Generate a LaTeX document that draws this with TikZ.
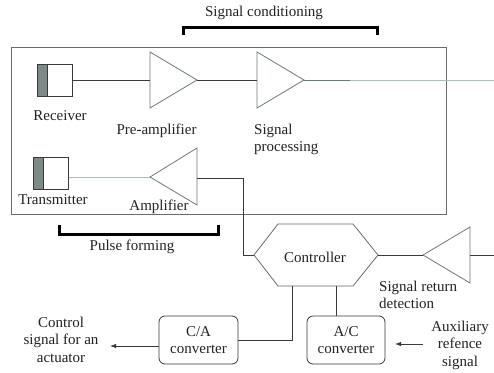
\documentclass[tikz,border=0pt]{standalone}
\usepackage{fontspec}
\setmainfont{Liberation Serif}
\usetikzlibrary{arrows.meta}
\definecolor{wire}{HTML}{3A3A3A}
\definecolor{lite}{HTML}{A9BDBD}
\definecolor{frame}{HTML}{6A6A6A}
\definecolor{trig}{HTML}{6F7878}
\definecolor{xdcr}{HTML}{7E8A88}
\definecolor{txt}{HTML}{222222}
\begin{document}
\begin{tikzpicture}[x=1pt,y=-1pt,
  font=\fontsize{15}{17.5}\selectfont, text=txt,
  wirel/.style={draw=wire, line width=0.8pt},
  litel/.style={draw=lite, line width=0.9pt},
  tri/.style={draw=trig, line width=0.8pt},
  brk/.style={draw=black, line width=3pt},
  xducer/.style={draw=wire, line width=0.8pt, minimum width=35pt, minimum height=32pt, inner sep=0pt,
    path picture={\fill[xdcr] (path picture bounding box.south west) rectangle ([xshift=10pt]path picture bounding box.north west);
      \draw[wire, line width=0.8pt] ([xshift=10pt]path picture bounding box.south west) -- ([xshift=10pt]path picture bounding box.north west);}},
  conv/.style={draw=wire, line width=0.8pt, rounded corners=6pt, minimum height=48pt, inner sep=0pt, align=center},
  lbl/.style={inner sep=0pt, align=center},
  arr/.style={wirel, -{Latex[length=6pt,width=4.5pt]}}
]
\useasboundingbox (0,0) rectangle (494,372);

% main unit frame
\node[draw=frame, line width=0.9pt, minimum width=435pt, minimum height=167pt, inner sep=0pt] (unit) at (228.5,130.5) {};

% receiver chain
\node[xducer] (rx) at (54.5,80) {};
\node[lbl] (rxl) at (60,116) {Receiver};
\coordinate (paIn) at (150,80);
\coordinate (paOut) at (197,80);
\draw[tri] (150,52) -- (paOut) -- (150,108) -- cycle;
\node[lbl] (pal) at (156.5,131) {Pre-amplifier};
\coordinate (spIn) at (257,80);
\coordinate (spOut) at (304,80);
\draw[tri] (257,52) -- (spOut) -- (257,108) -- cycle;
\node[lbl, align=left, anchor=west] (spl) at (254,139.5) {Signal\\processing};
\coordinate (spMid) at (350,80);
\coordinate (spEnd) at (494,80);
\draw[wirel] (rx.east) -- (paIn);
\draw[wirel] (paOut) -- (spIn);
\draw[draw=trig, line width=0.8pt] (spOut) -- (spMid);
\draw[litel] (spMid) -- (spEnd);

% transmitter chain
\node[xducer] (tx) at (51,173) {};
\node[lbl] (txl) at (53,200) {Transmitter};
\coordinate (ampTip) at (150,177);
\coordinate (ampIn) at (197,178);
\draw[tri] (197,148) -- (ampTip) -- (197,205) -- cycle;
\node[lbl] (ampl) at (159,207) {Amplifier};
\draw[litel] (tx.east |- ampTip) -- (ampTip);

% brackets
\node[lbl] (scl) at (264,13) {Signal conditioning};
\draw[brk] (183,35) -- (183,27) -- (377,27) -- (377,35);
\node[lbl] (pfl) at (132,247) {Pulse forming};
\draw[brk] (59,225) -- (59,234) -- (218,234) -- (218,225);

% controller
\node[lbl] (ctrl) at (315,257) {Controller};
\coordinate (ctrlL) at (254,255);
\coordinate (ctrlR) at (378,255);
\draw[wirel, draw=frame] (ctrlL) -- (278,224) -- (353,224) -- (ctrlR) -- (353,286) -- (278,286) -- cycle;
\coordinate (ctrlB1) at (292,286);
\coordinate (ctrlB2) at (336,286);
\coordinate (ampDown) at (243,178);
\draw[wirel] (ampIn) -- (ampDown) |- (ctrlL);

% signal return detection
\coordinate (srTip) at (423,255);
\coordinate (srIn) at (470,255);
\coordinate (srEnd) at (494,255);
\draw[tri] (470,227) -- (srTip) -- (470,283) -- cycle;
\draw[wirel] (ctrlR) -- (srTip);
\draw[wirel] (srIn) -- (srEnd);
\node[lbl, align=left, anchor=west] (srl) at (379,295) {Signal return\\detection};

% converters
\node[conv, minimum width=79pt] (ca) at (198.5,340) {C/A\\converter};
\node[conv, minimum width=78pt] (ac) at (346,340) {A/C\\converter};
\draw[wirel] (ctrlB1) |- (ca.east);
\draw[wirel] (ctrlB2) -- (ctrlB2 |- ac.north);

% outputs / inputs
\node[lbl] (csl) at (61,339.5) {Control\\signal for an\\actuator};
\coordinate (csEnd) at (110,346);
\draw[arr] (ca.west |- csEnd) -- (csEnd);
\node[lbl] (auxl) at (460,345) {Auxiliary\\refence\\signal};
\coordinate (auxStart) at (423,344);
\coordinate (auxEnd) at (395,344);
\draw[arr] (auxStart) -- (auxEnd);
\end{tikzpicture}
\end{document}
